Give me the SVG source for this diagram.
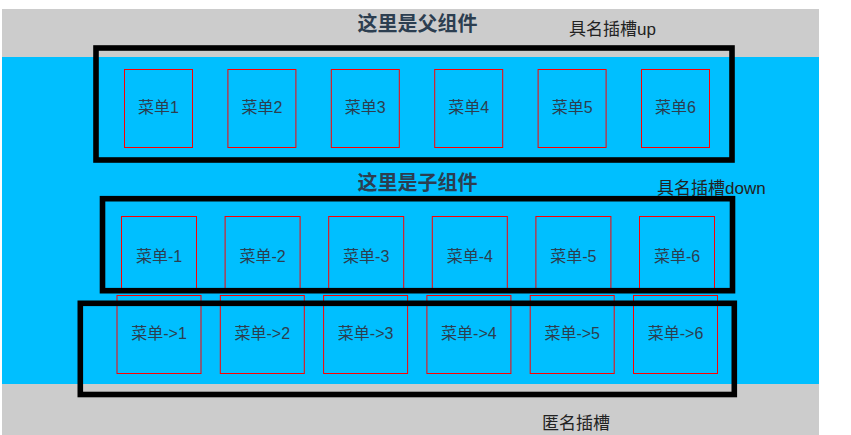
<svg xmlns="http://www.w3.org/2000/svg" width="851" height="435" viewBox="0 0 851 435">
<style>
.t{font-family:"Liberation Sans","Noto Sans CJK SC",sans-serif;fill:#2c3e50}
.title{font-size:20px;font-weight:bold;text-anchor:middle}
.lbl{font-size:17px;fill:#222}
.m{font-size:16px;text-anchor:middle}
.item{fill:none;stroke:#ff0000;stroke-width:1}
.slot{fill:none;stroke:#000;stroke-width:5.6}
</style>
<rect x="0" y="0" width="851" height="435" fill="#fff"/>
<g id="parent">
<rect x="2" y="9" width="817" height="426" fill="#cccccc"/>
<rect x="2" y="57" width="817" height="327" fill="#00bfff"/>
<text class="t title" x="417.5" y="31">这里是父组件</text>
</g>
<g id="slot-up">
<g id="m1"><rect class="item" x="124.5" y="69.5" width="68" height="78"/><text class="t m" x="158.5" y="113">菜单1</text></g>
<g id="m2"><rect class="item" x="227.9" y="69.5" width="68" height="78"/><text class="t m" x="261.9" y="113">菜单2</text></g>
<g id="m3"><rect class="item" x="331.3" y="69.5" width="68" height="78"/><text class="t m" x="365.3" y="113">菜单3</text></g>
<g id="m4"><rect class="item" x="434.7" y="69.5" width="68" height="78"/><text class="t m" x="468.7" y="113">菜单4</text></g>
<g id="m5"><rect class="item" x="538.1" y="69.5" width="68" height="78"/><text class="t m" x="572.1" y="113">菜单5</text></g>
<g id="m6"><rect class="item" x="641.5" y="69.5" width="68" height="78"/><text class="t m" x="675.5" y="113">菜单6</text></g>
<rect class="slot" x="96" y="48" width="636" height="112"/>
<text class="t lbl" x="569" y="35">具名插槽up</text>
</g>
<g id="child">
<text class="t title" x="417.5" y="190">这里是子组件</text>
</g>
<g id="slot-down">
<g id="d1"><rect class="item" x="121.5" y="216.5" width="75" height="74"/><text class="t m" x="159" y="262">菜单-1</text></g>
<g id="d2"><rect class="item" x="225.1" y="216.5" width="75" height="74"/><text class="t m" x="262.6" y="262">菜单-2</text></g>
<g id="d3"><rect class="item" x="328.7" y="216.5" width="75" height="74"/><text class="t m" x="366.2" y="262">菜单-3</text></g>
<g id="d4"><rect class="item" x="432.3" y="216.5" width="75" height="74"/><text class="t m" x="469.8" y="262">菜单-4</text></g>
<g id="d5"><rect class="item" x="535.9" y="216.5" width="75" height="74"/><text class="t m" x="573.4" y="262">菜单-5</text></g>
<g id="d6"><rect class="item" x="639.5" y="216.5" width="75" height="74"/><text class="t m" x="677" y="262">菜单-6</text></g>
<rect class="slot" x="102.5" y="198.7" width="630" height="92"/>
<text class="t lbl" x="657" y="194">具名插槽down</text>
</g>
<g id="slot-default">
<g id="a1"><rect class="item" x="117" y="295.5" width="84" height="78"/><text class="t m" x="159" y="339">菜单-&gt;1</text></g>
<g id="a2"><rect class="item" x="220.3" y="295.5" width="84" height="78"/><text class="t m" x="262.3" y="339">菜单-&gt;2</text></g>
<g id="a3"><rect class="item" x="323.6" y="295.5" width="84" height="78"/><text class="t m" x="365.6" y="339">菜单-&gt;3</text></g>
<g id="a4"><rect class="item" x="426.9" y="295.5" width="84" height="78"/><text class="t m" x="468.9" y="339">菜单-&gt;4</text></g>
<g id="a5"><rect class="item" x="530.2" y="295.5" width="84" height="78"/><text class="t m" x="572.2" y="339">菜单-&gt;5</text></g>
<g id="a6"><rect class="item" x="633.5" y="295.5" width="84" height="78"/><text class="t m" x="675.5" y="339">菜单-&gt;6</text></g>
<rect class="slot" x="80.3" y="303.3" width="654" height="91.2"/>
<text class="t lbl" x="542" y="429">匿名插槽</text>
</g>
</svg>
